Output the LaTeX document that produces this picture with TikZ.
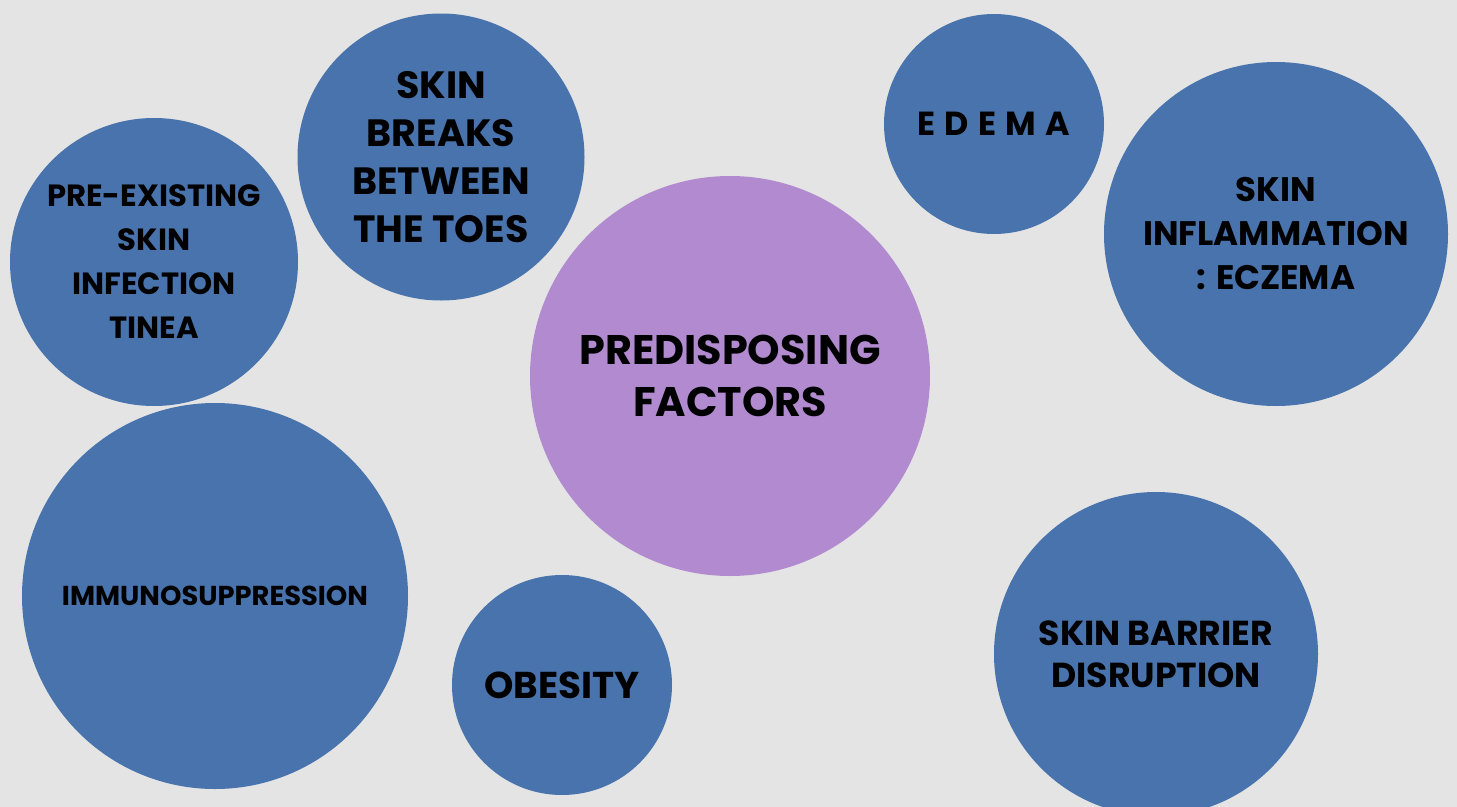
\documentclass[tikz,border=0pt]{standalone}
\usepackage{fontspec}
\setmainfont{Poppins}
\newfontfamily\spacedfont[LetterSpace=28]{Poppins}

\definecolor{bgGray}{RGB}{228,228,228}
\definecolor{bubbleBlue}{RGB}{72,115,172}
\definecolor{bubblePurple}{RGB}{178,138,208}

\tikzset{every picture/.style={line width=0.75pt}}
\tikzset{
  bubble/.style={circle, fill=bubbleBlue, draw=none, inner sep=0pt, minimum size=#1*1.5pt, align=center, text=black, font=\bfseries\fontsize{23}{33}\selectfont},
  hub/.style={bubble=#1, fill=bubblePurple, font=\bfseries\fontsize{31}{39}\selectfont}
}

\begin{document}
\begin{tikzpicture}[x=0.75pt,y=0.75pt,yscale=-1,xscale=1]
\useasboundingbox (0,0) rectangle (1457,807);
\fill [bgGray] (0,0) rectangle (1457,807);

%Shape: Circle [hub]
\node [hub=200] (factors) at (730,376) {PREDISPOSING\\FACTORS};

%Shape: Circle [left side]
\node [bubble=144] (tinea) at (154,262) {PRE-EXISTING\\SKIN\\INFECTION\\TINEA};
\node [bubble=143.5, font=\bfseries\fontsize{28.5}{36}\selectfont] (toes) at (441,157) {SKIN\\BREAKS\\BETWEEN\\THE TOES};
\node [bubble=193, font=\bfseries\fontsize{20.5}{24}\selectfont] (immuno) at (215,596) {IMMUNOSUPPRESSION};
\node [bubble=110, font=\bfseries\fontsize{28}{33}\selectfont] (obesity) at (562,685) {OBESITY};

%Shape: Circle [right side]
\node [bubble=110, font=\bfseries\spacedfont\fontsize{25}{33}\selectfont] (edema) at (994,124) {EDEMA};
\node [bubble=172, font=\bfseries\fontsize{25.5}{33}\selectfont] (eczema) at (1276,234) {SKIN\\INFLAMMATION\\: ECZEMA};
\node [bubble=162, font=\bfseries\fontsize{26}{31.5}\selectfont] (barrier) at (1156,654) {SKIN BARRIER\\DISRUPTION};

\end{tikzpicture}
\end{document}
